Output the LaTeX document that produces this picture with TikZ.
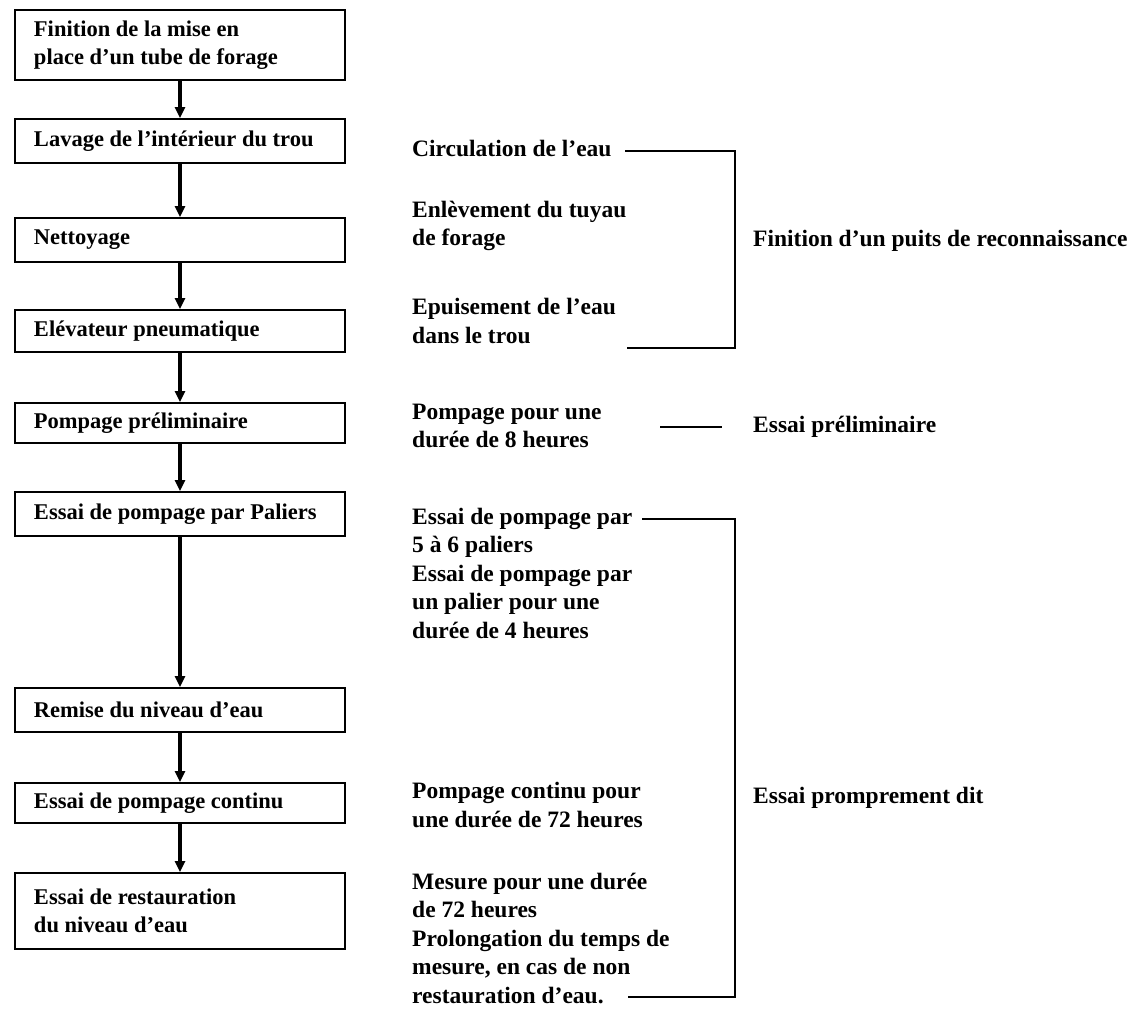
\documentclass[tikz,border=0pt]{standalone}
\usepackage{fontspec}
\setmainfont{Liberation Serif}
\usetikzlibrary{arrows.meta}

\begin{document}
\begin{tikzpicture}[x=1pt, y=-1pt,
  stepbox/.style={draw, line width=1.8pt, minimum width=330pt, minimum height=44pt,
    text width=292pt, align=flush left, inner xsep=19pt, font=\fontsize{22.5}{28}\selectfont\bfseries},
  note/.style={anchor=west, align=flush left, inner sep=3pt, font=\fontsize{23.5}{28.5}\selectfont\bfseries},
  flow/.style={line width=3.4pt, -{Triangle[length=11pt, width=10pt]}},
  brace/.style={line width=1.8pt}]
  \useasboundingbox (0,0) rectangle (1146,1017);

  % steps
  \node[stepbox, minimum height=70pt] (tube) at (180,45) {Finition de la mise en\\place d'un tube de forage};
  \node[stepbox] (lavage) at (180,141) {Lavage de l'intérieur du trou};
  \node[stepbox] (nettoy) at (180,240) {Nettoyage};
  \node[stepbox, minimum height=42pt] (elev) at (180,331) {Elévateur pneumatique};
  \node[stepbox, minimum height=40pt] (prelim) at (180,423) {Pompage préliminaire};
  \node[stepbox] (paliers) at (180,514) {Essai de pompage par Paliers};
  \node[stepbox] (remise) at (180,710) {Remise du niveau d'eau};
  \node[stepbox, minimum height=40pt] (continu) at (180,803) {Essai de pompage continu};
  \node[stepbox, minimum height=76pt] (restau) at (180,911) {Essai de restauration\\du niveau d'eau};

  % arrows
  \draw[flow] (tube) -- (lavage);
  \draw[flow] (lavage) -- (nettoy);
  \draw[flow] (nettoy) -- (elev);
  \draw[flow] (elev) -- (prelim);
  \draw[flow] (prelim) -- (paliers);
  \draw[flow] (paliers) -- (remise);
  \draw[flow] (remise) -- (continu);
  \draw[flow] (continu) -- (restau);

  % notes
  \node[note] (circ) at (409,148) {Circulation de l'eau};
  \node[note] (enlev) at (409,226) {Enlèvement du tuyau\\de forage};
  \node[note] (epuis) at (409,321) {Epuisement de l'eau\\dans le trou};
  \node[note] (pomp8) at (409,426) {Pompage pour une\\durée de 8 heures};
  \node[note] (palnote) at (409,573) {Essai de pompage par\\5 à 6 paliers\\Essai de pompage par\\un palier pour une\\durée de 4 heures};
  \node[note] (cont72) at (409,805) {Pompage continu pour\\une durée de 72 heures};
  \node[note] (mesure) at (409,938) {Mesure pour une durée\\de 72 heures\\Prolongation du temps de\\mesure, en cas de non\\restauration d'eau.};

  % groups
  \node[note] (puits) at (750,241) {Finition d'un puits de reconnaissance};
  \node[note] (essprel) at (750,427) {Essai préliminaire};
  \node[note] (propre) at (750,798) {Essai promprement dit};

  % brackets
  \coordinate (b1top) at (735,151);
  \coordinate (b1bot) at (735,348);
  \coordinate (b2top) at (735,519);
  \coordinate (b2bot) at (735,997);
  \draw[brace] (625,151) -- (b1top) -- (b1bot) -- (627,348);
  \draw[brace, line width=1.2pt] (660,427) -- (722,427);
  \draw[brace] (642,519) -- (b2top) -- (b2bot) -- (628,997);
\end{tikzpicture}
\end{document}
